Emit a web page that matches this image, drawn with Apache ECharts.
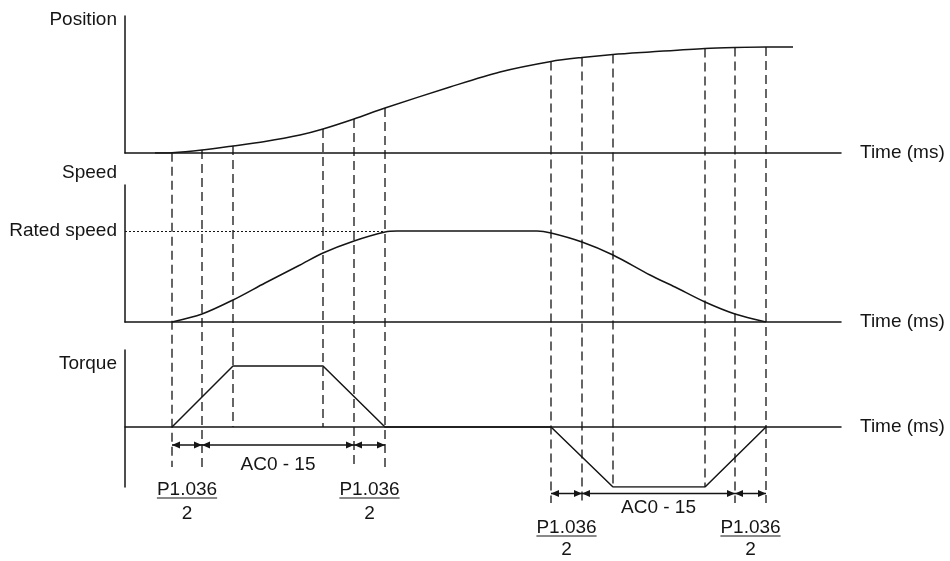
<!DOCTYPE html>
<html>
<head>
<meta charset="utf-8">
<title>Position / Speed / Torque</title>
<script src="https://cdn.jsdelivr.net/npm/echarts@6/dist/echarts.min.js"></script>
<style>
  html, body { margin: 0; padding: 0; background: #fff; }
  #chart { width: 950px; height: 561px; }
</style>
</head>
<body>
<div id="chart"></div>
<script>
// time axis in ms (scale)
const timeMax = 716
// guide instants: accel group (6) then decel group (6)
const keyTimes = [47, 77, 108, 198, 229, 260, 426, 457, 488, 580, 610, 641]

const posTimes = [30, 47, 77, 108, 140, 175, 198, 229, 260, 325, 375, 426, 457, 488, 525, 580, 610, 641, 668]
const posValues = [0, 0.3, 3, 7, 11.5, 18, 24, 34, 45, 66, 81, 91.5, 95.5, 98.5, 101, 104.5, 105.5, 106, 106]

const speedTimes = [47, 77, 108, 140, 175, 198, 229, 260, 272, 412, 426, 457, 488, 525, 550, 580, 610, 641]
const speedValues = [0, 8, 22, 39, 57, 69, 81, 90, 91, 91, 89, 80, 67, 47, 35, 20, 8, 0]
const ratedSpeed = 91
const ratedUntil = 260

const torqueTimes = [47, 108, 198, 260, 426, 488, 580, 641]
const torqueValues = [0, 61, 61, 0, 0, -60, -60, 0]

const axisNames = ['Position', 'Speed', 'Torque']
const timeName = 'Time (ms)'
const ratedName = 'Rated speed'
const spanLabels = ['AC0 - 15', 'P1.036', '2']

const ink = '#151515'
const fontFamily = '"Liberation Sans", Arial, sans-serif'
const fontSize = 19
const font = fontSize + 'px ' + fontFamily

const pairs = (xs, ys) => xs.map((x, i) => [x, ys[i]])

function interp(xs, ys, t) {
    for (let i = 1; i < xs.length; i++) {
        if (t <= xs[i]) {
            const k = (t - xs[i - 1]) / (xs[i] - xs[i - 1])
            return ys[i - 1] + k * (ys[i] - ys[i - 1])
        }
    }
    return ys[ys.length - 1]
}

const grids = [
    { left: 125, top: 16, width: 716, height: 137 },
    { left: 125, top: 185, width: 716, height: 137 },
    { left: 125, top: 350, width: 716, height: 137 }
]
const yRanges = [[0, 137], [0, 137], [-60, 77]]
const nameGaps = [-4, 12, -14]

const option = {
    animation: false,
    backgroundColor: '#fff',
    grid: grids,
    xAxis: grids.map((g, i) => ({
        type: 'value',
        gridIndex: i,
        min: 0,
        max: timeMax,
        name: timeName,
        nameLocation: 'end',
        nameGap: 19,
        nameTextStyle: { fontFamily, fontSize, color: ink, align: 'left', verticalAlign: 'middle' },
        axisLine: { show: true, onZero: true, lineStyle: { color: ink, width: 1.5 } },
        axisTick: { show: false },
        axisLabel: { show: false },
        splitLine: { show: false }
    })),
    yAxis: grids.map((g, i) => ({
        type: 'value',
        gridIndex: i,
        min: yRanges[i][0],
        max: yRanges[i][1],
        name: axisNames[i],
        nameLocation: 'end',
        nameGap: nameGaps[i],
        nameTextStyle: {
            fontFamily, fontSize, color: ink,
            align: 'right', verticalAlign: 'middle', padding: [0, 8, 0, 0]
        },
        axisLine: { show: true, onZero: false, lineStyle: { color: ink, width: 1.5 } },
        axisTick: { show: false },
        axisLabel: { show: false },
        splitLine: { show: false }
    })),
    series: [
        {
            type: 'line',
            xAxisIndex: 0,
            yAxisIndex: 0,
            data: pairs(posTimes, posValues),
            smooth: 0.3,
            showSymbol: false,
            lineStyle: { color: ink, width: 1.5 }
        },
        {
            type: 'line',
            xAxisIndex: 1,
            yAxisIndex: 1,
            data: pairs(speedTimes, speedValues),
            smooth: 0.3,
            showSymbol: false,
            lineStyle: { color: ink, width: 1.5 },
            markLine: {
                silent: true,
                symbol: ['none', 'none'],
                lineStyle: { color: ink, width: 1, type: [2, 2] },
                label: {
                    show: true,
                    position: 'start',
                    distance: 8,
                    formatter: ratedName,
                    fontFamily, fontSize, color: ink
                },
                data: [[{ coord: [0, ratedSpeed] }, { coord: [ratedUntil, ratedSpeed] }]]
            }
        },
        {
            type: 'line',
            xAxisIndex: 2,
            yAxisIndex: 2,
            data: pairs(torqueTimes, torqueValues),
            showSymbol: false,
            lineStyle: { color: ink, width: 1.5 }
        }
    ]
}

const chart = echarts.init(document.getElementById('chart'), null, { renderer: 'canvas' })
chart.setOption(option)

// guides, dimension arrows and captions, placed with the grids' own scales
const groups = [
    { times: keyTimes.slice(0, 6), arrowLv: -18, extLv: -40, acLv: -38, pLv: -63, twoLv: -86.5 },
    { times: keyTimes.slice(6), arrowLv: -66.5, extLv: -76, acLv: -81, pLv: -101, twoLv: -123 }
]

const measure = document.createElement('canvas').getContext('2d')
measure.font = font

const g0 = { gridIndex: 0 }
const g2 = { gridIndex: 2 }
const els = []

function text(str, x, y) {
    els.push({
        type: 'text',
        silent: true,
        style: { text: str, x, y, font, fill: ink, align: 'center', verticalAlign: 'middle' }
    })
}

function arrow(xa, xb, y) {
    const h = 8, w = 3.5
    els.push({ type: 'line', silent: true, shape: { x1: xa, y1: y, x2: xb, y2: y }, style: { stroke: ink, lineWidth: 1.5 } })
    els.push({ type: 'polygon', silent: true, shape: { points: [[xa, y], [xa + h, y - w], [xa + h, y + w]] }, style: { fill: ink } })
    els.push({ type: 'polygon', silent: true, shape: { points: [[xb, y], [xb - h, y - w], [xb - h, y + w]] }, style: { fill: ink } })
}

groups.forEach(grp => {
    grp.times.forEach((t, i) => {
        const inner = i === 2 || i === 3
        const top = chart.convertToPixel(g0, [t, interp(posTimes, posValues, t)])
        const lv = inner ? Math.min(0, interp(torqueTimes, torqueValues, t)) : grp.extLv
        const bot = chart.convertToPixel(g2, [t, lv])
        els.push({
            type: 'line',
            silent: true,
            shape: { x1: top[0], y1: top[1], x2: bot[0], y2: bot[1] },
            style: { stroke: ink, lineWidth: 1.3, lineDash: [9, 5] }
        })
    })

    const outer = [grp.times[0], grp.times[1], grp.times[4], grp.times[5]]
    const px = outer.map(t => chart.convertToPixel(g2, [t, grp.arrowLv]))
    const y = px[0][1]
    for (let k = 0; k < 3; k++) arrow(px[k][0], px[k + 1][0], y)

    const acMid = chart.convertToPixel(g2, [(outer[1] + outer[2]) / 2, grp.acLv])
    text(spanLabels[0], acMid[0], acMid[1])

    ;[[outer[0], outer[1]], [outer[2], outer[3]]].forEach(seg => {
        const mid = (seg[0] + seg[1]) / 2
        const p = chart.convertToPixel(g2, [mid, grp.pLv])
        const q = chart.convertToPixel(g2, [mid, grp.twoLv])
        text(spanLabels[1], p[0], p[1])
        const w = measure.measureText(spanLabels[1]).width
        const uy = p[1] + fontSize * 0.42
        els.push({
            type: 'line',
            silent: true,
            shape: { x1: p[0] - w / 2, y1: uy, x2: p[0] + w / 2, y2: uy },
            style: { stroke: ink, lineWidth: 1.2 }
        })
        text(spanLabels[2], q[0], q[1])
    })
})

chart.setOption({ graphic: { elements: els } })
</script>
</body>
</html>
